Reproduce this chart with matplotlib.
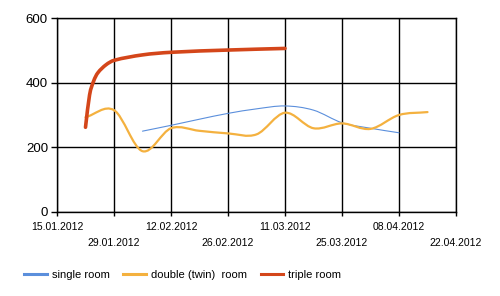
import datetime as dt
import numpy as np
import matplotlib
matplotlib.use("Agg")
import matplotlib.pyplot as plt
import matplotlib.dates as mdates
from matplotlib.path import Path
from matplotlib.patches import PathPatch
from matplotlib.lines import Line2D

# single room
single_datas = ["05.02.2012", "12.02.2012", "19.02.2012", "26.02.2012", "04.03.2012",
                "11.03.2012", "18.03.2012", "25.03.2012", "01.04.2012", "08.04.2012"]
single_valores = [250, 268, 287, 305, 319, 328, 315, 276, 259, 245]

# double (twin) room
double_datas = ["22.01.2012", "29.01.2012", "05.02.2012", "12.02.2012", "19.02.2012",
                "26.02.2012", "04.03.2012", "11.03.2012", "18.03.2012", "25.03.2012",
                "01.04.2012", "08.04.2012", "15.04.2012"]
double_valores = [293, 315, 188, 259, 251, 243, 240, 307, 259, 274, 257, 300, 309]

# triple room
triple_datas = ["22.01.2012", "23.01.2012", "24.01.2012", "25.01.2012", "27.01.2012",
                "29.01.2012", "05.02.2012", "12.02.2012", "26.02.2012", "11.03.2012"]
triple_valores = [262, 362, 405, 430, 455, 469, 486, 494, 501, 506]

# eixo x
ticks_x = ["15.01.2012", "29.01.2012", "12.02.2012", "26.02.2012",
           "11.03.2012", "25.03.2012", "08.04.2012", "22.04.2012"]
ticks_y = [0, 200, 400, 600]


def para_num(datas):
    return mdates.date2num([dt.datetime.strptime(d, "%d.%m.%Y") for d in datas])


def curva(ax, x, y, cor, lw):
    """Desenhar linha suave (spline de Hermite em Bezier) pelos pontos."""
    x = np.asarray(x, float)
    y = np.asarray(y, float)
    n = len(x)
    m = np.zeros(n)
    m[0] = (y[1] - y[0]) / (x[1] - x[0])
    m[-1] = (y[-1] - y[-2]) / (x[-1] - x[-2])
    for i in range(1, n - 1):
        m[i] = (y[i + 1] - y[i - 1]) / (x[i + 1] - x[i - 1])
    verts = [(x[0], y[0])]
    codes = [Path.MOVETO]
    for i in range(n - 1):
        h = x[i + 1] - x[i]
        verts += [(x[i] + h / 3, y[i] + m[i] * h / 3),
                  (x[i + 1] - h / 3, y[i + 1] - m[i + 1] * h / 3),
                  (x[i + 1], y[i + 1])]
        codes += [Path.CURVE4] * 3
    ax.add_patch(PathPatch(Path(verts, codes), fill=False, edgecolor=cor,
                           linewidth=lw, capstyle="round", joinstyle="round", zorder=3))


plt.rcParams["font.family"] = ["Liberation Sans", "DejaVu Sans"]

fig = plt.figure(figsize=(5.0, 2.96), dpi=100)
ax = fig.add_axes([0.114, 0.284, 0.798, 0.655])

cores = ["#5b8fdc", "#f4b13f", "#d4461a"]
larguras = [0.8, 1.6, 2.6]
nomes = ["single room", "double (twin)  room", "triple room"]

curva(ax, para_num(single_datas), single_valores, cores[0], larguras[0])
curva(ax, para_num(double_datas), double_valores, cores[1], larguras[1])
curva(ax, para_num(triple_datas), triple_valores, cores[2], larguras[2])

xt = para_num(ticks_x)
ax.set_xlim(xt[0], xt[-1])
ax.set_ylim(0, 600)
ax.set_xticks(xt)
ax.set_xticklabels([t if i % 2 == 0 else "\n" + t for i, t in enumerate(ticks_x)],
                   fontsize=7.5, linespacing=1.75)
ax.set_yticks(ticks_y)
ax.set_yticklabels([str(v) for v in ticks_y], fontsize=9.5)
ax.tick_params(axis="x", length=3, width=1, color="black", pad=4)
ax.tick_params(axis="y", length=4, width=1, color="black", pad=2.5)
ax.grid(True, color="black", linewidth=1)
for s in ax.spines.values():
    s.set_color("black")
    s.set_linewidth(1)

# legenda em baixo
handles = [Line2D([], [], color=c, linewidth=2.2) for c in cores]
fig.legend(handles, nomes, loc="center left", bbox_to_anchor=(0.04, 0.072),
           ncol=3, frameon=False, fontsize=8, handlelength=2.0,
           handletextpad=0.45, columnspacing=1.25, borderaxespad=0)

fig.savefig("out.png", dpi=100)
